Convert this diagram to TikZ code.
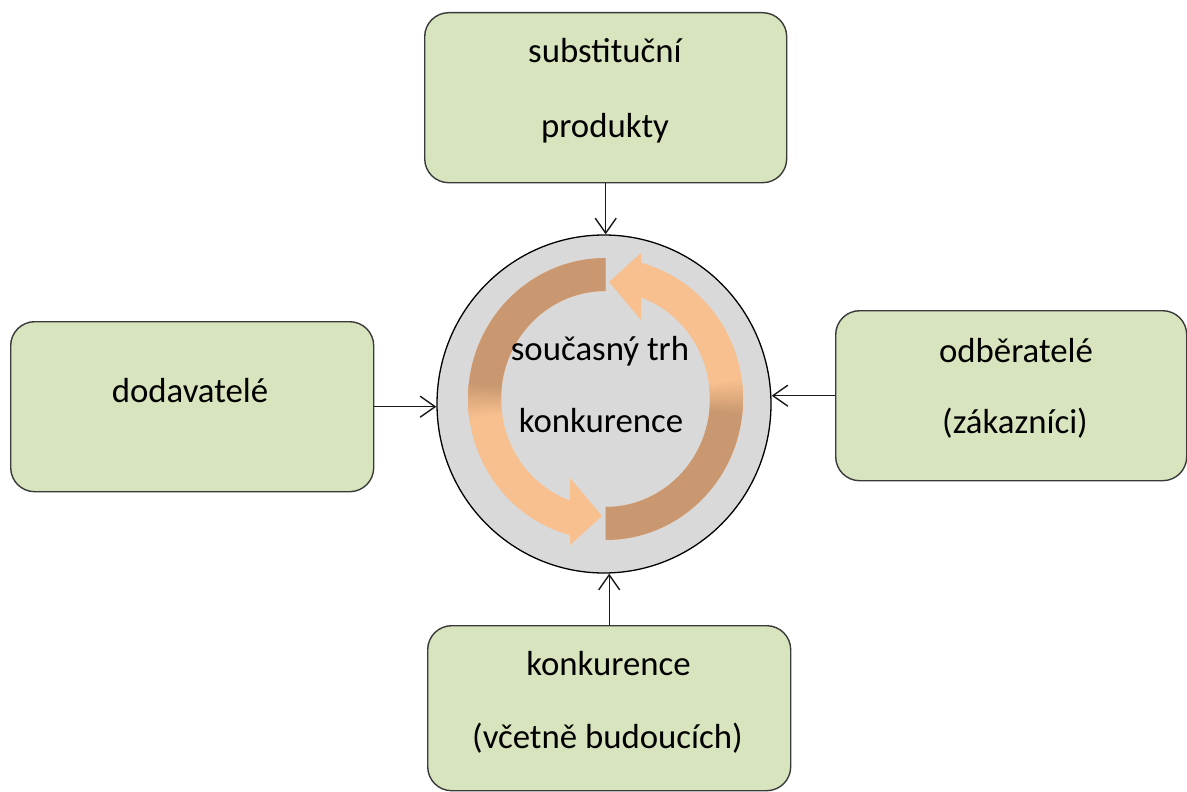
\documentclass[tikz,border=0pt]{standalone}
\usepackage{fontspec}
\setmainfont{Carlito}
\usetikzlibrary{arrows.meta,shapes.geometric}
\definecolor{boxgreen}{HTML}{D7E4BD}
\definecolor{boxline}{HTML}{3A3A3A}
\definecolor{circfill}{HTML}{D9D9D9}
\definecolor{arrdark}{HTML}{C99870}
\definecolor{arrlight}{HTML}{F8C08F}
\newcommand\cyclearrowshape{%
  \fill[arrlight] (605.5,258) arc[start angle=270,end angle=104.96,x radius=137.5,y radius=141]
     -- (570,545) -- (602,516) -- (570,478) -- (570,500.6)
     arc[start angle=109.86,end angle=270,x radius=104.5,y radius=108] -- cycle;
  \fill[arrdark] (605.5,258) arc[start angle=270,end angle=186,x radius=137.5,y radius=141]
     -- ({605.5+104.5*cos(186)},{399+108*sin(186)})
     arc[start angle=186,end angle=270,x radius=104.5,y radius=108] -- cycle;
  \foreach \i in {0,...,29}{%
    \pgfmathsetmacro\ta{186.3-\i*0.5}%
    \pgfmathsetmacro\tb{\ta-0.9}%
    \pgfmathtruncatemacro\pc{100-(\i+1)*100/30}%
    \fill[arrdark!\pc!arrlight] ({605.5+137.5*cos(\ta)},{399+141*sin(\ta)})
       arc[start angle=\ta,end angle=\tb,x radius=137.5,y radius=141]
       -- ({605.5+104.5*cos(\tb)},{399+108*sin(\tb)})
       arc[start angle=\tb,end angle=\ta,x radius=104.5,y radius=108] -- cycle;
  }%
}
\begin{document}
\begin{tikzpicture}[x=1pt,y=-1pt,
  box/.style={draw=boxline, line width=1.4pt, fill=boxgreen, rounded corners=24pt, inner sep=0pt, anchor=north west},
  lbl/.style={anchor=base, inner sep=0pt, font=\fontsize{34.8}{40}\selectfont},
  conn/.style={draw=black!90, line width=1.4pt, -{Straight Barb[length=15pt,width=21pt,line width=1.4pt]}}]
\useasboundingbox[fill=white] (0,0) rectangle (1187,792);
% boxes
\node[box, minimum width=362pt, minimum height=170pt] (btop) at (424,12) {};
\node[box, minimum width=363pt, minimum height=170pt] (bleft) at (10,321) {};
\node[box, minimum width=351pt, minimum height=170pt] (bright) at (835,310) {};
\node[box, minimum width=363pt, minimum height=165pt] (bbot) at (427,625) {};
% central circle
\node[draw=black, line width=1.3pt, fill=circfill, ellipse, minimum width=334pt, minimum height=338pt, inner sep=0pt] (circ) at (604,404) {};
% cycle arrows
\begin{scope}
\cyclearrowshape
\end{scope}
\begin{scope}[rotate around={180:(605.5,399)}]
\cyclearrowshape
\end{scope}
% connectors
\draw[conn] (btop.south) -- (btop.south |- circ.north);
\draw[conn] (bleft.east) -- (bleft.east -| circ.west);
\draw[conn] (bright.west) -- (bright.west -| circ.east);
\draw[conn] (bbot.north) -- (bbot.north |- circ.south);
% labels
\node[lbl] (t1a) at (605,63) {substituční};
\node[lbl] (t1b) at (605,137) {produkty};
\node[lbl] (t2a) at (190,402) {dodavatelé};
\node[lbl] (t3a) at (1016,362) {odběratelé};
\node[lbl] (t3b) at (1015,433) {(zákazníci)};
\node[lbl] (t4a) at (608.5,675) {konkurence};
\node[lbl] (t4b) at (607.5,748) {(včetně budoucích)};
\node[lbl] (c1) at (600,360) {současný trh};
\node[lbl] (c2) at (601,432) {konkurence};
\end{tikzpicture}
\end{document}
